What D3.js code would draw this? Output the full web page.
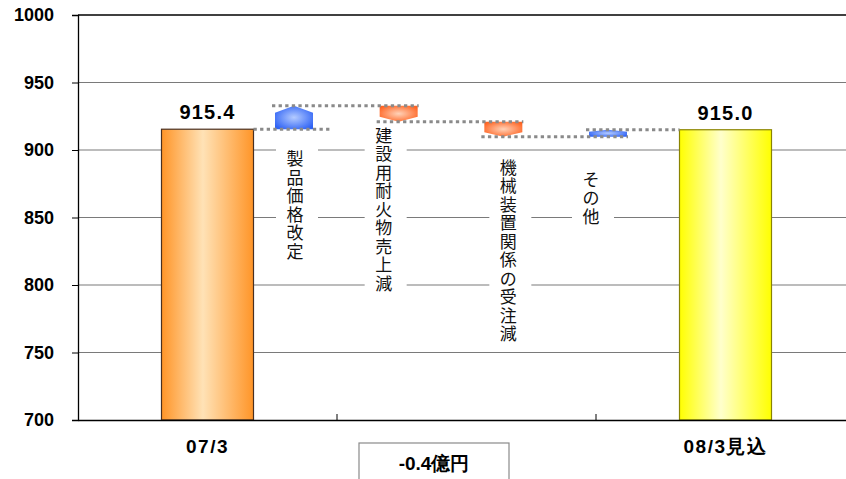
<!DOCTYPE html>
<html>
<head>
<meta charset="utf-8">
<script src="https://cdn.jsdelivr.net/npm/d3@7.9.0/dist/d3.min.js"></script>
<style>
  html, body { margin: 0; padding: 0; background: #fff; }
  svg { display: block; }
  .num { font-family: "Liberation Sans", Arial, sans-serif; font-weight: bold; }
  .jp { font-family: "Noto Sans CJK JP", sans-serif; }
</style>
</head>
<body>
<div id="chart"></div>
<script>
// data
const categories = ['07/3', '', '08/3見込'];
const totals = [915.4, null, 915.0];
const totalLabels = ['915.4', '', '915.0'];
const stepLabels = ['製品価格改定', '建設用耐火物売上減', '機械装置関係の受注減', 'その他'];
const stepValues = [17.4, -11.8, -11.1, 5.1];
const yTicks = [700, 750, 800, 850, 900, 950, 1000];
const diffLabel = '-0.4億円';

// hand placed label offsets (dx, dy below the step mark)
const labelShift = [[1, 21], [-15, 5], [5, 22], [-17, 34]];

const W = 846, H = 479;
const mLeft = 78, mTop = 15, mBottom = 420, mRight = 855;

const svg = d3.select('#chart').append('svg').attr('width', W).attr('height', H);
const defs = svg.append('defs');

function hGrad(id, edge, mid) {
  const g = defs.append('linearGradient').attr('id', id).attr('x1', 0).attr('x2', 1).attr('y1', 0).attr('y2', 0);
  g.append('stop').attr('offset', '0%').attr('stop-color', edge);
  g.append('stop').attr('offset', '45%').attr('stop-color', mid);
  g.append('stop').attr('offset', '100%').attr('stop-color', edge);
}
function rGrad(id, edge, mid) {
  const g = defs.append('radialGradient').attr('id', id).attr('cx', '50%').attr('cy', '50%').attr('r', '60%');
  g.append('stop').attr('offset', '0%').attr('stop-color', mid);
  g.append('stop').attr('offset', '100%').attr('stop-color', edge);
}
hGrad('gOrange', '#ff9528', '#ffe2b6');
hGrad('gYellow', '#ffff00', '#ffffcc');
rGrad('gBlue', '#2f63f5', '#b4cbff');
rGrad('gRed', '#ff6422', '#ffd2b8');

const x = d3.scaleBand().domain(d3.range(categories.length)).range([mLeft, mRight]);
const y = d3.scaleLinear().domain([700, 1000]).range([mBottom, mTop]);
const sx = d3.scalePoint().domain(stepLabels).range([294, 608]);
const barW = 92, stepW = 38;

// grid
svg.append('g').selectAll('line').data(yTicks.filter(t => t > 700 && t < 1000)).join('line')
  .attr('x1', mLeft).attr('x2', W).attr('y1', d => y(d)).attr('y2', d => y(d))
  .attr('stroke', '#7a7a7a').attr('stroke-width', 1.2);
svg.append('line').attr('x1', mLeft).attr('x2', W).attr('y1', y(1000)).attr('y2', y(1000))
  .attr('stroke', '#000').attr('stroke-width', 1.3);

// y axis
const ya = svg.append('g').attr('transform', `translate(${mLeft},0)`)
  .call(d3.axisLeft(y).tickValues(yTicks).tickFormat(d3.format('d')).tickSize(6).tickPadding(18));
ya.select('.domain').attr('stroke', '#000').attr('stroke-width', 1.3);
ya.selectAll('.tick line').attr('stroke', '#000');
ya.selectAll('text').attr('class', 'num').style('font-size', '18px').attr('fill', '#000');

// step labels, one character per row, on a white backing
const levels = [totals[0]];
stepValues.forEach(v => levels.push(+(levels[levels.length - 1] + v).toFixed(1)));
const pitch = 18.5;
const lab = svg.append('g');
stepLabels.forEach((s, i) => {
  const cx = sx(s) + labelShift[i][0];
  const yTop = y(Math.min(levels[i], levels[i + 1])) + labelShift[i][1];
  const chars = Array.from(s);
  lab.append('rect').attr('x', cx - 19).attr('y', yTop - 4).attr('width', 42)
    .attr('height', chars.length * pitch + 6).attr('fill', '#fff');
  const t = lab.append('text').attr('class', 'jp').attr('text-anchor', 'middle')
    .style('font-size', '17px').attr('fill', '#111');
  chars.forEach((c, k) => {
    t.append('tspan').attr('x', cx).attr('y', yTop + 15 + k * pitch).text(c);
  });
});

// total bars
const bars = categories.map((c, i) => ({ i, v: totals[i] })).filter(d => d.v != null);
svg.append('g').selectAll('rect').data(bars).join('rect')
  .attr('x', d => x(d.i) + x.bandwidth() / 2 - barW / 2)
  .attr('y', d => y(d.v))
  .attr('width', barW)
  .attr('height', d => mBottom - y(d.v))
  .attr('fill', d => d.i === 0 ? 'url(#gOrange)' : 'url(#gYellow)')
  .attr('stroke', d => d.i === 0 ? '#4a3020' : '#8a8400')
  .attr('stroke-width', 1.2);

svg.append('g').selectAll('text').data(bars).join('text')
  .attr('class', 'num')
  .attr('x', d => x(d.i) + x.bandwidth() / 2)
  .attr('y', d => y(d.v) - 10)
  .attr('text-anchor', 'middle')
  .style('font-size', '20px').style('letter-spacing', '1.2px')
  .text(d => totalLabels[d.i]);

// step marks
const marks = stepLabels.map((s, i) => ({ s, v0: levels[i], v1: levels[i + 1] }));
svg.append('g').selectAll('path').data(marks).join('path')
  .attr('d', d => {
    const cx = sx(d.s), l = cx - stepW / 2, r = cx + stepW / 2;
    const yt = y(Math.max(d.v0, d.v1)), yb = y(Math.min(d.v0, d.v1));
    const p = (yb - yt) * 0.3;
    return d.v1 > d.v0
      ? `M${l},${yb}L${l},${yt + p}L${cx},${yt}L${r},${yt + p}L${r},${yb}Z`
      : `M${l},${yt}L${r},${yt}L${r},${yb - p}L${cx},${yb}L${l},${yb - p}Z`;
  })
  .attr('fill', d => d.v1 > d.v0 ? 'url(#gBlue)' : 'url(#gRed)');

// dotted connectors
const barRight = x(0) + x.bandwidth() / 2 + barW / 2;
const barLeft = x(2) + x.bandwidth() / 2 - barW / 2;
const cs = stepLabels.map(s => sx(s));
const conn = levels.map((v, i) => ({
  v,
  x1: i === 0 ? barRight : cs[i - 1] - 22,
  x2: i === levels.length - 1 ? barLeft : (i === 0 ? cs[0] + 38 : cs[i] + 20)
}));
svg.append('g').selectAll('line').data(conn).join('line')
  .attr('x1', d => d.x1).attr('x2', d => d.x2)
  .attr('y1', d => y(d.v)).attr('y2', d => y(d.v))
  .attr('stroke', '#8a8a8a').attr('stroke-width', 3).attr('stroke-dasharray', '3.3,3.3');

// x axis
const xa = svg.append('g').attr('transform', `translate(0,${mBottom})`)
  .call(d3.axisBottom(x).tickSize(0).tickPadding(20).tickFormat(i => categories[i]));
xa.select('.domain').attr('stroke', '#000').attr('stroke-width', 1.3);
xa.selectAll('text').attr('class', 'num').style('font-size', '19px').style('letter-spacing', '1.5px').attr('fill', '#000');
svg.append('g').selectAll('line').data(d3.range(1, categories.length)).join('line')
  .attr('x1', d => x(d)).attr('x2', d => x(d)).attr('y1', mBottom).attr('y2', mBottom - 6)
  .attr('stroke', '#000');

// difference box
const bx = x(1) + 22;
svg.append('rect').attr('x', bx).attr('y', 443).attr('width', 150).attr('height', 45)
  .attr('fill', '#fff').attr('stroke', '#8a8a8a').attr('stroke-width', 1.2);
svg.append('text').attr('class', 'num').attr('x', bx + 75).attr('y', 470)
  .attr('text-anchor', 'middle').style('font-size', '19px').text(diffLabel);
</script>
</body>
</html>
